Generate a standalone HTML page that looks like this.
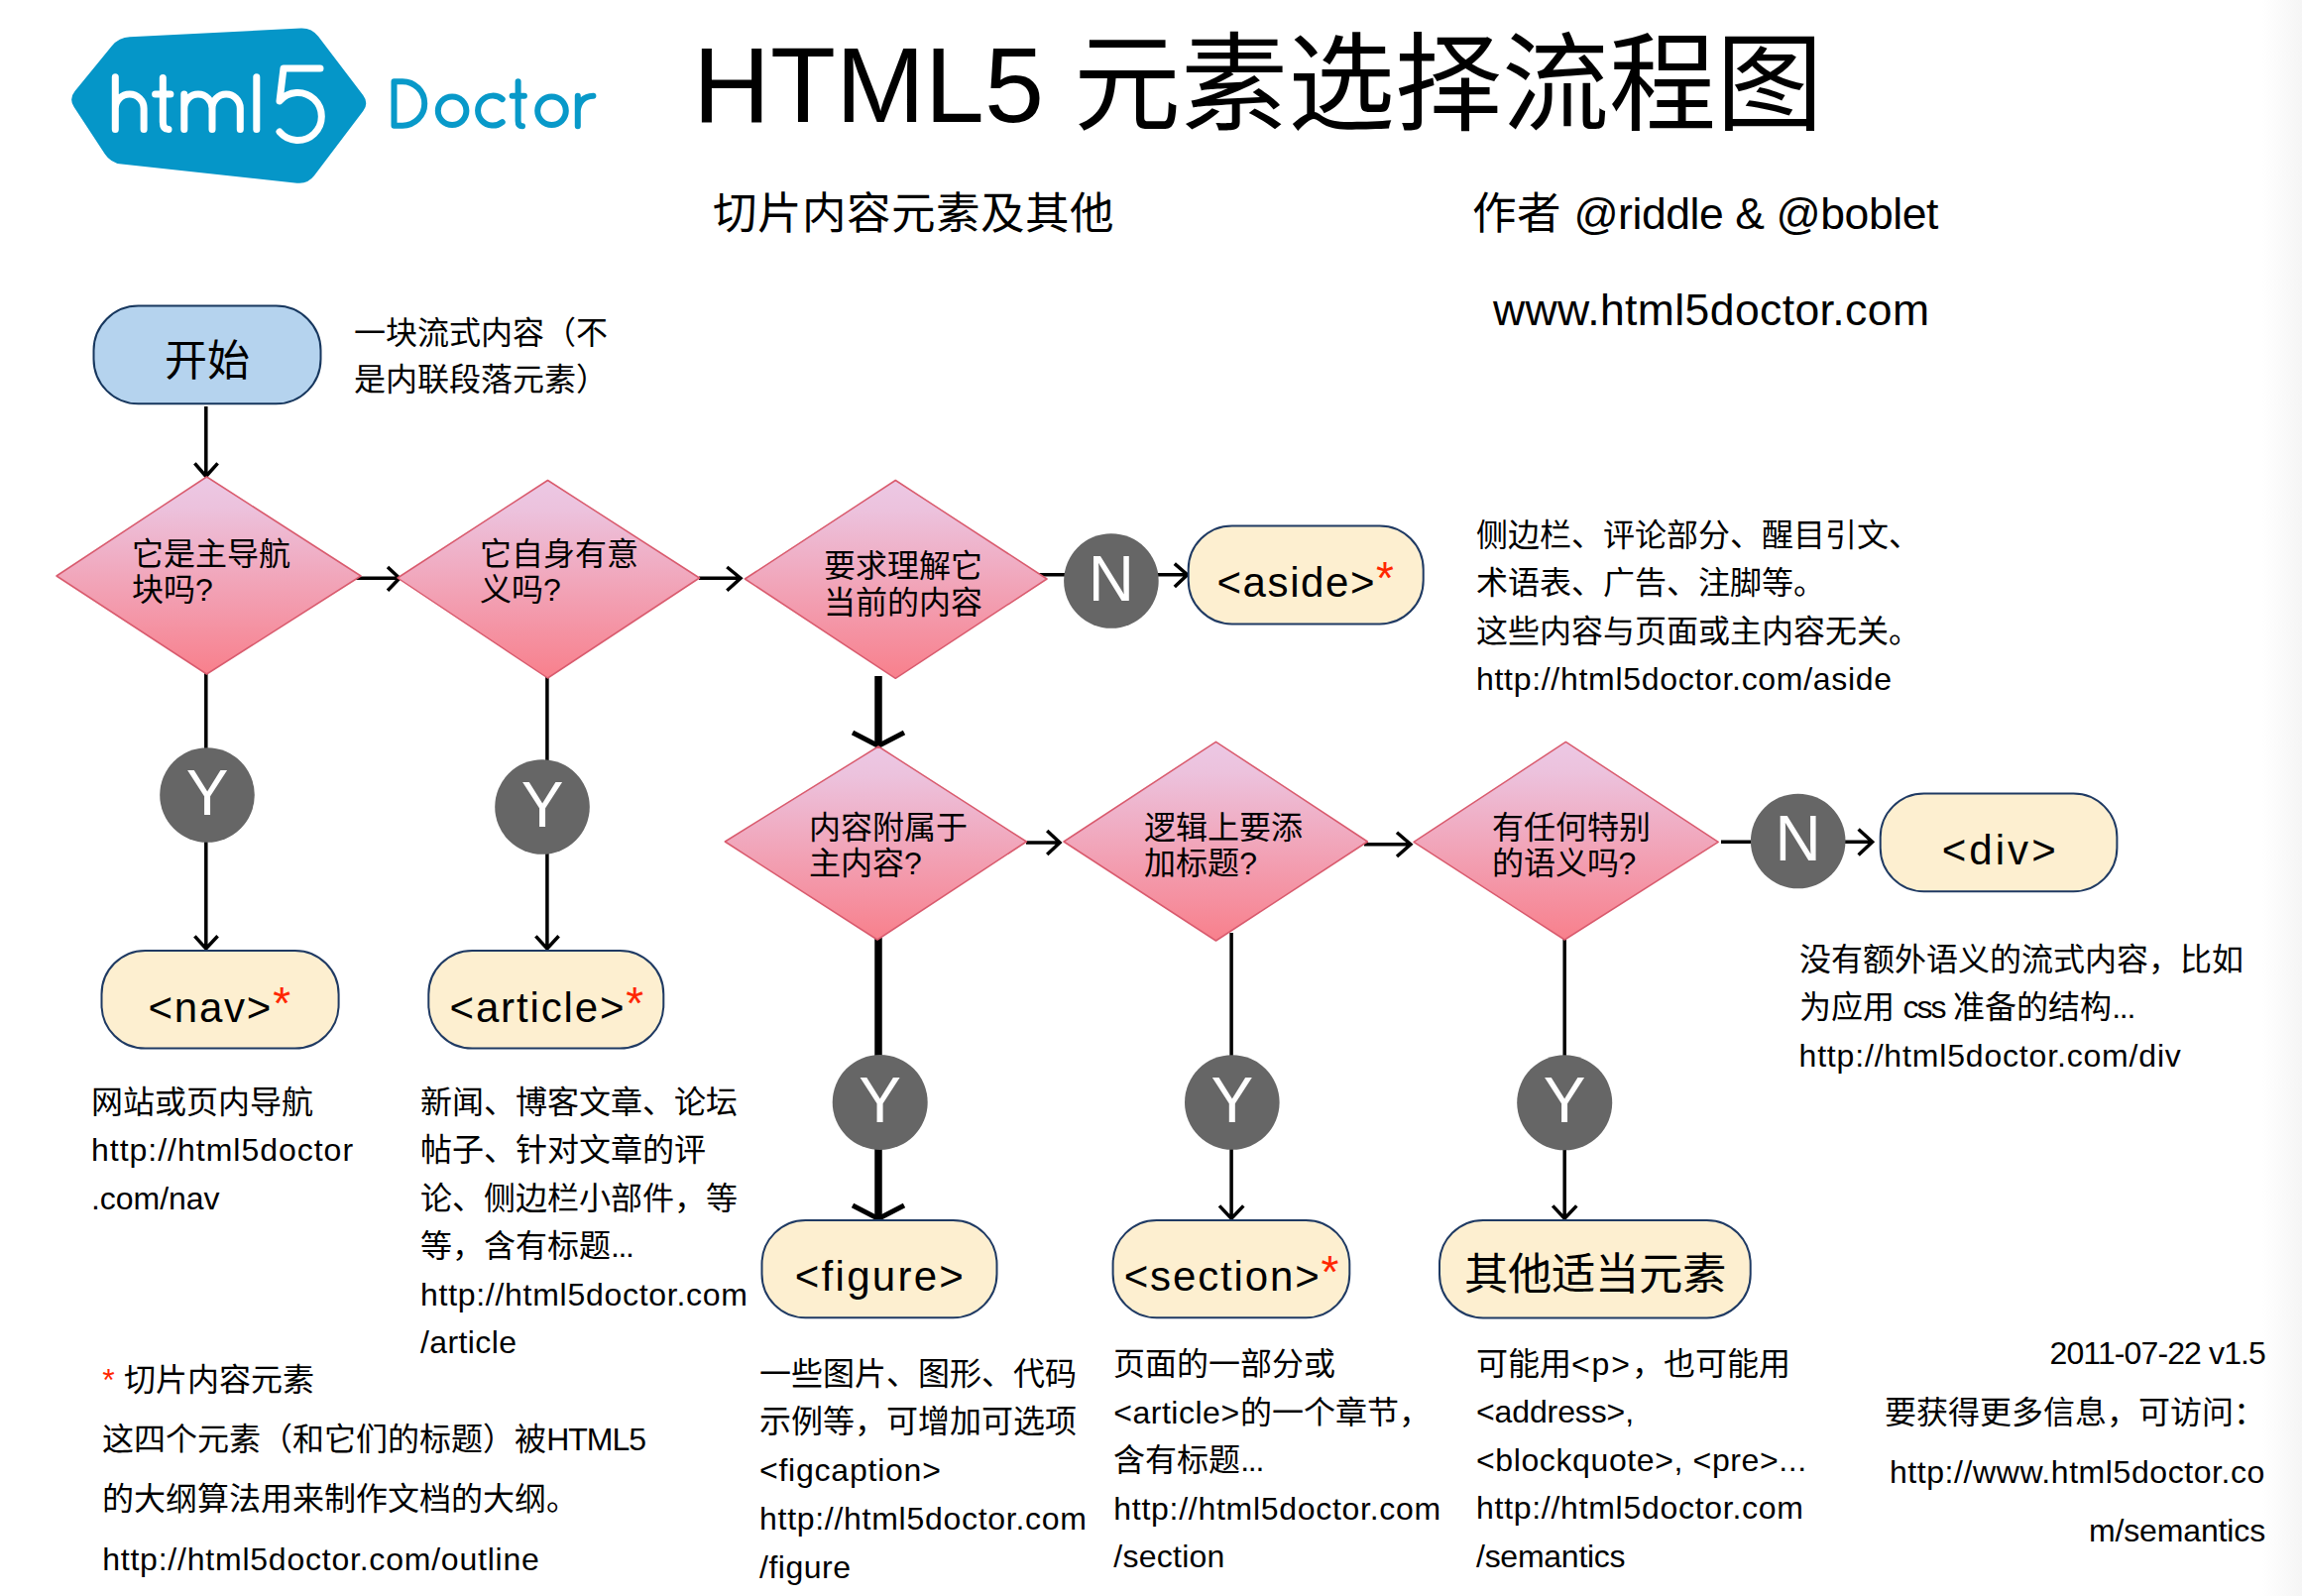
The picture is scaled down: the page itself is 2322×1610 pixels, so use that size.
<!DOCTYPE html>
<html lang="zh-CN">
<head>
<meta charset="utf-8">
<title>HTML5 元素选择流程图</title>
<style>
html,body{margin:0;padding:0;background:#fff}
body{width:2322px;height:1610px;position:relative;overflow:hidden;font-family:"Liberation Sans",sans-serif;color:#000}
#edge{position:absolute;left:2282px;top:0;width:40px;height:1610px;background:linear-gradient(to right,#ffffff 0%,#f8f8f8 70%,#f5f5f5 100%)}
svg{position:absolute;left:0;top:0}
.t{position:absolute;white-space:pre}
.r{color:#ff2600}
.b{position:relative;top:-3px;font-size:46px;line-height:0}
</style>
</head>
<body>
<div id="edge"></div>
<svg width="2322" height="1610" viewBox="0 0 2322 1610">
<defs>
<linearGradient id="g" x1="0" y1="0" x2="0" y2="1">
<stop offset="0" stop-color="#ecc8e4"/>
<stop offset="0.15" stop-color="#ecc2dd"/>
<stop offset="1" stop-color="#f8808c"/>
</linearGradient>
</defs>
<!-- logo -->
<path d="M74.7 108.1Q69.2 99.7 75.5 92.0L112.9 46.2Q119.9 37.7 130.9 37.2L303.4 28.5Q314.4 28.0 321.1 36.8L366.2 96.1Q372.3 104.1 366.3 112.1L317.1 177.1Q310.5 185.9 299.6 184.7L122.6 165.6Q111.7 164.4 105.7 155.2Z" fill="#0596c8"/>
<g fill="none" stroke="#fff" stroke-width="7" stroke-linecap="round" stroke-linejoin="round">
<path d="M116.3 77.7V130.5M116.3 109.5A14.4 14.4 0 0 1 145.1 109.5V130.5"/>
<path d="M164.3 78.4V123Q164.3 130.5 170 130.5M156.6 95.1H171.9"/>
<path d="M185.8 95.1V130.5M185.8 109.2A14.1 14.1 0 0 1 214 109.2V130.5M214 109.2A14.1 14.1 0 0 1 242.3 109.2V130.5"/>
<path d="M258.8 77.7V130.5"/>
<path d="M323 69H286L282 102A24 24 0 1 1 282 133"/>
</g>
<g fill="none" stroke="#0899c9" stroke-width="6" stroke-linecap="round" stroke-linejoin="round">
<path d="M397.5 82.2V126.7H406A22.25 22.25 0 0 0 406 82.2Z"/>
<circle cx="456.1" cy="111.8" r="14.3"/>
<path d="M506.7 100.1A15 15 0 1 0 506.7 123.1"/>
<path d="M522.6 82.2V122Q522.6 127.2 527 127.2M516.6 96.7H528.9"/>
<circle cx="556.5" cy="111.8" r="14.3"/>
<path d="M582.8 96.7V127.2M582.8 112Q584 97.5 598.4 96.7"/>
</g>
<!-- connectors -->
<g fill="none" stroke="#000" stroke-width="3.5">
<path d="M207.8 410V480M196.4 467.4L207.8 480.5L219.6 467.4"/>
<path d="M358 583.2H402M391 572L403 583.2L391 595.7"/>
<path d="M705 583.2H746M733.3 572L747 583.2L733.3 595.7"/>
<path d="M1047 579.7H1197M1184.8 568.6L1197.7 579.7L1184.8 591.9"/>
<path d="M207.8 678V957M196.4 944.3L207.8 957L219.6 944.3"/>
<path d="M551.9 682V957M540.4 944.3L551.9 957L563.6 944.3"/>
<path d="M1035 850H1068M1056.2 838L1069 850L1056.2 862"/>
<path d="M1376 851.8H1421M1409 839.7L1422.9 851.8L1409 864"/>
<path d="M1736 849.3H1887M1874.6 836.5L1888.6 849.3L1874.6 862.5"/>
<path d="M1242.1 941V1229M1230 1216.4L1242.1 1229.3L1254.3 1216.4"/>
<path d="M1578.2 946V1229M1566.2 1216.4L1578.2 1229.3L1590.3 1216.4"/>
</g>
<g fill="none" stroke="#000" stroke-width="7.5">
<path d="M886 682V752"/>
<path d="M886 946V1228"/>
</g>
<g fill="none" stroke="#000" stroke-width="5">
<path d="M860 739L886 752.5L912 739"/>
<path d="M860 1216L886 1229.5L912 1216"/>
</g>
<!-- diamonds -->
<g fill="url(#g)" stroke="#d95b6e" stroke-width="1.5" stroke-linejoin="round">
<polygon points="208.5,481 364,581 208.5,680 57,581"/>
<polygon points="552.5,484.5 705.5,583 552.5,684 401,583"/>
<polygon points="903.3,484.5 1056,584 903.3,684.3 751.4,584"/>
<polygon points="886,753 1035.4,849 885,948 731.3,849"/>
<polygon points="1226.5,748.3 1379.4,849 1226.5,949 1073,849"/>
<polygon points="1579.4,748.4 1733.2,849.3 1578.2,948 1426,849.3"/>
</g>
<!-- circles -->
<g fill="#666">
<circle cx="209" cy="802" r="47.8"/>
<circle cx="547" cy="814" r="47.8"/>
<circle cx="1120.9" cy="586" r="47.8"/>
<circle cx="1813.7" cy="848.5" r="47.8"/>
<circle cx="887.7" cy="1112" r="48"/>
<circle cx="1242.8" cy="1112" r="47.8"/>
<circle cx="1578.2" cy="1112.3" r="48"/>
</g>
<!-- boxes -->
<rect x="94.5" y="308.6" width="229" height="98.7" rx="45" fill="#b5d3ee" stroke="#17375e" stroke-width="2"/>
<g fill="#fdefd0" stroke="#1f3a63" stroke-width="2">
<rect x="1198.7" y="530.4" width="237" height="99" rx="44"/>
<rect x="1896.7" y="800.5" width="238.7" height="98.8" rx="44"/>
<rect x="102.5" y="958.9" width="239.1" height="98.7" rx="44"/>
<rect x="432.3" y="958.9" width="237" height="98.7" rx="44"/>
<rect x="768.5" y="1231" width="237" height="98.3" rx="44"/>
<rect x="1122.6" y="1231" width="238.7" height="98.3" rx="44"/>
<rect x="1452" y="1230.9" width="313.7" height="98.5" rx="44"/>
</g>
</svg>
<div class="t" style="top:21.0px;font-size:108px;line-height:130px;left:699px;"><span style="letter-spacing:-0.02px">HTML5 </span>元素选择流程图</div>
<div class="t" style="top:189.0px;font-size:44.5px;line-height:54px;left:719px;">切片内容元素及其他</div>
<div class="t" style="top:189.0px;font-size:44.5px;line-height:54px;left:1485px;">作者 <span style="letter-spacing:-0.43px">@riddle &amp; @boblet</span></div>
<div class="t" style="top:286.0px;font-size:44.5px;line-height:54px;left:1506px;"><span style="letter-spacing:0.4px">www.html5doctor.com</span></div>
<div class="t" style="top:339.0px;font-size:43px;line-height:50px;left:-191px;width:800px;text-align:center;">开始</div>
<div class="t" style="top:312.6px;font-size:32px;line-height:47.6px;left:357px;">一块流式内容（不<br>是内联段落元素）</div>
<div class="t" style="top:540.7px;font-size:32px;line-height:36.6px;left:133px;">它是主导航<br>块吗?</div>
<div class="t" style="top:540.7px;font-size:32px;line-height:36.6px;left:484px;">它自身有意<br>义吗?</div>
<div class="t" style="top:553.2px;font-size:32px;line-height:36.6px;left:830.5px;">要求理解它<br>当前的内容</div>
<div class="t" style="top:816.7px;font-size:32px;line-height:36.6px;left:816px;">内容附属于<br>主内容?</div>
<div class="t" style="top:816.7px;font-size:32px;line-height:36.6px;left:1154.3px;">逻辑上要添<br>加标题?</div>
<div class="t" style="top:816.7px;font-size:32px;line-height:36.6px;left:1504.5px;">有任何特别<br>的语义吗?</div>
<div class="t" style="top:767.5px;font-size:64px;line-height:64px;left:-191px;width:800px;text-align:center;color:#fff;">Y</div>
<div class="t" style="top:779.5px;font-size:64px;line-height:64px;left:147px;width:800px;text-align:center;color:#fff;">Y</div>
<div class="t" style="top:551.5px;font-size:64px;line-height:64px;left:720.9000000000001px;width:800px;text-align:center;color:#fff;">N</div>
<div class="t" style="top:814.0px;font-size:64px;line-height:64px;left:1413.7px;width:800px;text-align:center;color:#fff;">N</div>
<div class="t" style="top:1077.5px;font-size:64px;line-height:64px;left:487.70000000000005px;width:800px;text-align:center;color:#fff;">Y</div>
<div class="t" style="top:1077.5px;font-size:64px;line-height:64px;left:842.8px;width:800px;text-align:center;color:#fff;">Y</div>
<div class="t" style="top:1077.8px;font-size:64px;line-height:64px;left:1178.2px;width:800px;text-align:center;color:#fff;">Y</div>
<div class="t" style="top:563.0px;font-size:42px;line-height:50px;left:1227.5px;"><span style="letter-spacing:1.59px">&lt;aside&gt;</span><span class="r b">*</span></div>
<div class="t" style="top:992.0px;font-size:42px;line-height:50px;left:149.4px;"><span style="letter-spacing:1.8px">&lt;nav&gt;</span><span class="r b">*</span></div>
<div class="t" style="top:992.0px;font-size:42px;line-height:50px;left:453.5px;"><span style="letter-spacing:1.86px">&lt;article&gt;</span><span class="r b">*</span></div>
<div class="t" style="top:1263.0px;font-size:42px;line-height:50px;left:801.8px;"><span style="letter-spacing:2.27px">&lt;figure&gt;</span></div>
<div class="t" style="top:1263.0px;font-size:42px;line-height:50px;left:1133.7px;"><span style="letter-spacing:1.86px">&lt;section&gt;</span><span class="r b">*</span></div>
<div class="t" style="top:833.0px;font-size:42px;line-height:50px;left:1958.7px;"><span style="letter-spacing:3.06px">&lt;div&gt;</span></div>
<div class="t" style="top:1260.5px;font-size:44.3px;line-height:50px;left:1208.8px;width:800px;text-align:center;">其他适当元素</div>
<div class="t" style="top:515.9px;font-size:32px;line-height:48.4px;left:1489px;">侧边栏、评论部分、醒目引文、<br>术语表、广告、注脚等。<br>这些内容与页面或主内容无关。<br><span style="letter-spacing:0.7px">http://html5doctor.com/aside</span></div>
<div class="t" style="top:1087.8px;font-size:32px;line-height:48.6px;left:92px;">网站或页内导航<br><span style="letter-spacing:0.99px">http://html5doctor</span><br><span style="letter-spacing:-0.03px">.com/nav</span></div>
<div class="t" style="top:1087.9px;font-size:32px;line-height:48.4px;left:424px;">新闻、博客文章、论坛<br>帖子、针对文章的评<br>论、侧边栏小部件，等<br>等，含有标题<span style="letter-spacing:-1.34px">...</span><br><span style="letter-spacing:0.72px">http://html5doctor.com</span><br><span style="letter-spacing:0.39px">/article</span></div>
<div class="t" style="top:943.7px;font-size:32px;line-height:48.6px;left:1814.5px;">没有额外语义的流式内容，比如<br>为应用 <span style="letter-spacing:-2.0px">css</span> 准备的结构<span style="letter-spacing:-1.34px">...</span><br><span style="letter-spacing:0.83px">http://html5doctor.com/div</span></div>
<div class="t" style="top:1361.7px;font-size:32px;line-height:48.7px;left:766px;">一些图片、图形、代码<br>示例等，可增加可选项<br><span style="letter-spacing:0.77px">&lt;figcaption&gt;</span><br><span style="letter-spacing:0.72px">http://html5doctor.com</span><br><span style="letter-spacing:0.51px">/figure</span></div>
<div class="t" style="top:1352.2px;font-size:32px;line-height:48.5px;left:1123.3px;">页面的一部分或<br><span style="letter-spacing:0.51px">&lt;article&gt;</span>的一个章节，<br>含有标题<span style="letter-spacing:-1.34px">...</span><br><span style="letter-spacing:0.72px">http://html5doctor.com</span><br><span style="letter-spacing:0.25px">/section</span></div>
<div class="t" style="top:1351.8px;font-size:32px;line-height:48.5px;left:1489px;">可能用<span style="letter-spacing:1.86px">&lt;p&gt;</span>，也可能用<br><span style="letter-spacing:-0.12px">&lt;address&gt;,</span><br><span style="letter-spacing:0.62px">&lt;blockquote&gt;, &lt;pre&gt;...</span><br><span style="letter-spacing:0.72px">http://html5doctor.com</span><br><span style="letter-spacing:-0.26px">/semantics</span></div>
<div class="t" style="top:1361.8px;font-size:32px;line-height:60.3px;left:103.2px;"><span class="r">*</span> 切片内容元素<br>这四个元素（和它们的标题）被<span style="letter-spacing:-1.03px">HTML5</span><br>的大纲算法用来制作文档的大纲。<br><span style="letter-spacing:0.78px">http://html5doctor.com/outline</span></div>
<div class="t" style="top:1336.2px;font-size:32px;line-height:59.7px;right:37px;text-align:right;"><span style="letter-spacing:-0.88px">2011-07-22 v1.5</span><br>要获得更多信息，可访问：<br><span style="letter-spacing:0.58px">http://www.html5doctor.co</span><br><span style="letter-spacing:-0.14px">m/semantics</span></div>
</body>
</html>
